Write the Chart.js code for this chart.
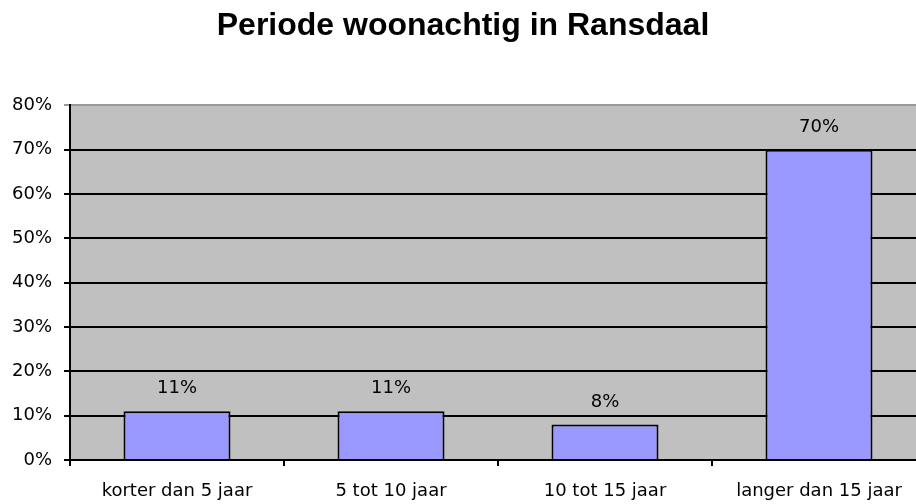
<!DOCTYPE html>
<html>
<head>
<meta charset="utf-8">
<script src="https://cdn.jsdelivr.net/npm/chart.js@4/dist/chart.umd.min.js"></script>
<style>
  html, body { margin: 0; padding: 0; background: #fff; overflow: hidden; }
  #wrap { width: 916px; height: 504px; overflow: hidden; }
  canvas { display: block; }
</style>
</head>
<body>
<div id="wrap">
  <canvas id="grafiek" width="930" height="504" style="width:930px;height:504px"></canvas>
</div>
<script>
const titel = "Periode woonachtig in Ransdaal";
const categorieen = ["korter dan 5 jaar", "5 tot 10 jaar", "10 tot 15 jaar", "langer dan 15 jaar"];
const percentages = [11, 11, 8, 70];
const yTicks = [0, 10, 20, 30, 40, 50, 60, 70, 80];

const labelFont = "DejaVu Sans";

// grijze achtergrond van het plotgebied
const achtergrond = {
    id: "achtergrond",
    beforeDraw(chart) {
        const { ctx, chartArea } = chart;
        ctx.save();
        ctx.fillStyle = "#C0C0C0";
        ctx.fillRect(chartArea.left, chartArea.top, chartArea.right - chartArea.left, chartArea.bottom - chartArea.top);
        ctx.restore();
    }
};

// percentage boven elke staaf
const waardeLabels = {
    id: "waardeLabels",
    afterDatasetsDraw(chart) {
        const { ctx } = chart;
        const meta = chart.getDatasetMeta(0);
        ctx.save();
        ctx.font = "18px '" + labelFont + "'";
        ctx.fillStyle = "#000";
        ctx.textAlign = "center";
        ctx.textBaseline = "alphabetic";
        meta.data.forEach((bar, i) => {
            ctx.fillText(percentages[i] + "%", bar.x, bar.y - 18);
        });
        ctx.restore();
    }
};

new Chart(document.getElementById("grafiek").getContext("2d"), {
    type: "bar",
    data: {
        labels: categorieen,
        datasets: [{
            data: percentages,
            backgroundColor: "#9999FF",
            borderColor: "#000",
            borderWidth: 2,
            categoryPercentage: 1,
            barPercentage: 0.5
        }]
    },
    options: {
        responsive: false,
        animation: false,
        devicePixelRatio: 1,
        layout: { padding: { left: 0, right: 4, top: 0, bottom: 0 } },
        plugins: {
            legend: { display: false },
            tooltip: { enabled: false },
            title: {
                display: true,
                text: titel,
                color: "#000",
                font: { family: "Liberation Sans", size: 32, weight: "bold", lineHeight: 1.2 },
                padding: { top: 7, bottom: 60 }
            }
        },
        scales: {
            x: {
                grid: {
                    display: true,
                    drawOnChartArea: false,
                    drawTicks: true,
                    tickLength: 6,
                    offset: true,
                    color: "#000",
                    lineWidth: 2
                },
                border: { display: true, color: "#000", width: 2 },
                ticks: {
                    color: "#000",
                    font: { family: labelFont, size: 18 },
                    padding: 15,
                    maxRotation: 0,
                    autoSkip: false
                },
                afterFit(scale) { scale.height = 44; }
            },
            y: {
                min: 0,
                max: 80,
                afterBuildTicks(scale) {
                    scale.ticks = yTicks.map(v => ({ value: v }));
                },
                grid: {
                    drawTicks: true,
                    tickLength: 6,
                    color: (c) => (c.tick && c.tick.value === 80 ? "#9a9a9a" : "#000"),
                    lineWidth: 2
                },
                border: { display: true, color: "#000", width: 2 },
                ticks: {
                    color: "#000",
                    font: { family: labelFont, size: 18 },
                    padding: 12,
                    callback: (v) => v + "%"
                },
                afterFit(scale) { scale.width = 70; }
            }
        }
    },
    plugins: [achtergrond, waardeLabels]
});
</script>
</body>
</html>
